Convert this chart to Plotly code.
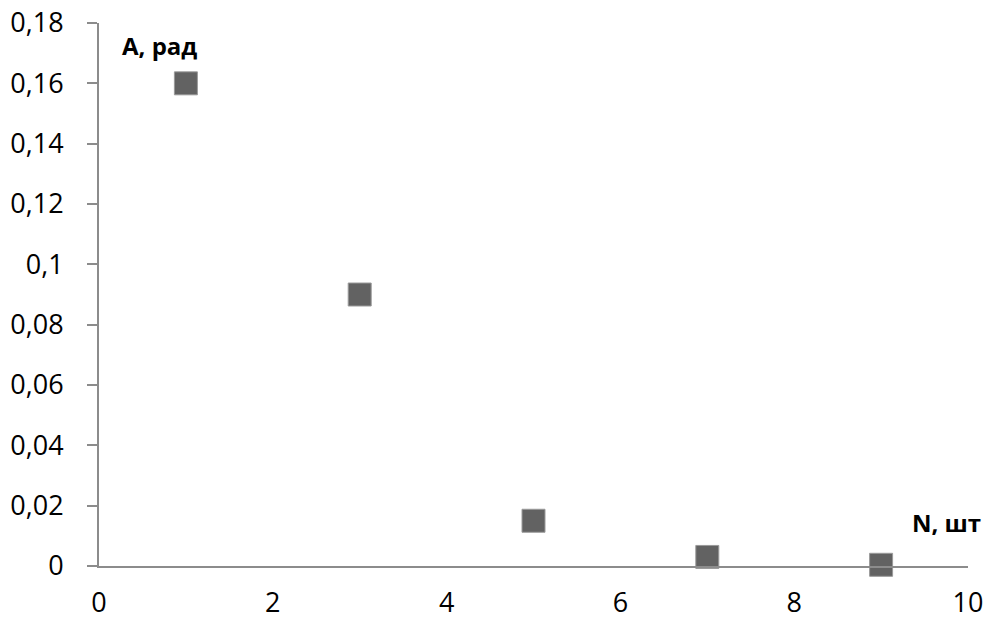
import plotly.graph_objects as go

n_values = [1, 3, 5, 7, 9]
a_values = [0.16, 0.09, 0.015, 0.003, 0.0004]
x_ticks = [0, 2, 4, 6, 8, 10]
y_ticks = [0, 0.02, 0.04, 0.06, 0.08, 0.1, 0.12, 0.14, 0.16, 0.18]
y_tick_labels = ["0", "0,02", "0,04", "0,06", "0,08", "0,1", "0,12", "0,14", "0,16", "0,18"]

fig = go.Figure()
fig.add_trace(go.Scatter(
    x=n_values, y=a_values, mode="markers",
    marker=dict(symbol="square", size=23, color="#626262",
                line=dict(color="#9a9a9a", width=1)),
    showlegend=False, cliponaxis=False,
))

fam = "Open Sans, Liberation Sans, sans-serif"
font = dict(family=fam, size=27, color="#000000")

fig.update_layout(
    width=987, height=621,
    margin=dict(l=99, r=19, t=23, b=55, autoexpand=False),
    paper_bgcolor="white", plot_bgcolor="white",
    font=font,
    xaxis=dict(range=[0, 10], tickvals=x_ticks, ticktext=[str(v) for v in x_ticks],
               showgrid=False, zeroline=False, showline=True, linecolor="#8c8c8c",
               linewidth=2, ticks="", ticklabelstandoff=12, tickfont=font, automargin=False),
    yaxis=dict(range=[0, 0.18], tickvals=y_ticks, ticktext=y_tick_labels,
               showgrid=False, zeroline=False, showline=True, linecolor="#8c8c8c",
               linewidth=2, ticks="outside", ticklen=10, tickwidth=2, tickcolor="#8c8c8c",
               ticklabelstandoff=18, tickfont=font, automargin=False),
    annotations=[
        dict(text="<b>A, рад</b>", xref="paper", yref="paper", x=0.024, y=0.958,
             xanchor="left", yanchor="middle", showarrow=False,
             font=dict(family=fam, size=24, color="#000")),
        dict(text="<b>N, шт</b>", xref="paper", yref="paper", x=1.017, y=0.08,
             xanchor="right", yanchor="middle", showarrow=False,
             font=dict(family=fam, size=24, color="#000")),
    ],
)

fig.write_html("out.html", config={"displayModeBar": False},
               post_script="document.body.style.margin='0px';")
